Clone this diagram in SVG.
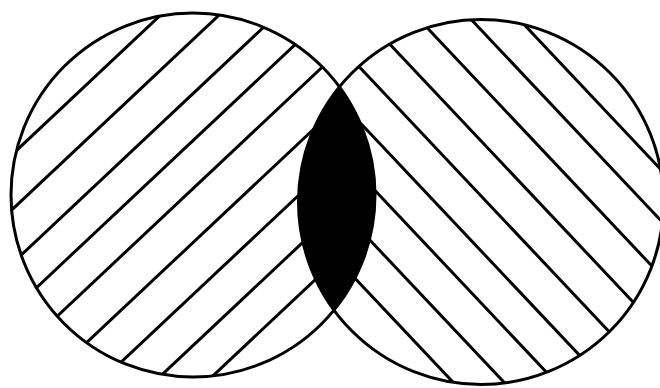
<svg xmlns="http://www.w3.org/2000/svg" width="660" height="388" viewBox="0 0 660 388">
<style>
.o{fill:none;stroke:#000;stroke-width:3}
.h{stroke:#000;stroke-width:3;fill:none}
</style>
<defs>
<clipPath id="cL"><circle cx="193" cy="195" r="182"/></clipPath>
<clipPath id="cR"><circle cx="481" cy="202" r="182.5"/></clipPath>
</defs>
<rect width="660" height="388" fill="#fff"/>
<g id="left-set">
<g clip-path="url(#cL)" class="h">
<line x1="0" y1="166" x2="400" y2="-210"/>
<line x1="0" y1="221" x2="400" y2="-155"/>
<line x1="0" y1="275" x2="400" y2="-101"/>
<line x1="0" y1="322" x2="400" y2="-54"/>
<line x1="0" y1="370" x2="400" y2="-6"/>
<line x1="0" y1="424" x2="400" y2="48"/>
<line x1="0" y1="476" x2="400" y2="100"/>
<line x1="0" y1="527" x2="400" y2="151"/>
<line x1="0" y1="576" x2="400" y2="200"/>
</g>
</g>
<g id="right-set">
<g clip-path="url(#cR)" class="h">
<line x1="280" y1="198.8" x2="680" y2="622.8"/>
<line x1="280" y1="144.8" x2="680" y2="568.8"/>
<line x1="280" y1="89.8" x2="680" y2="513.8"/>
<line x1="280" y1="37.8" x2="680" y2="461.8"/>
<line x1="280" y1="-17.2" x2="680" y2="406.8"/>
<line x1="280" y1="-72.2" x2="680" y2="351.8"/>
<line x1="280" y1="-128.2" x2="680" y2="295.8"/>
<line x1="280" y1="-183.2" x2="680" y2="240.8"/>
<line x1="280" y1="-234.2" x2="680" y2="189.8"/>
</g>
</g>
<g id="intersection">
<circle cx="481" cy="202" r="182.5" fill="#000" clip-path="url(#cL)"/>
</g>
<g id="outlines">
<circle class="o" cx="193" cy="195" r="182"/>
<circle class="o" cx="481" cy="202" r="182.5"/>
</g>
</svg>
